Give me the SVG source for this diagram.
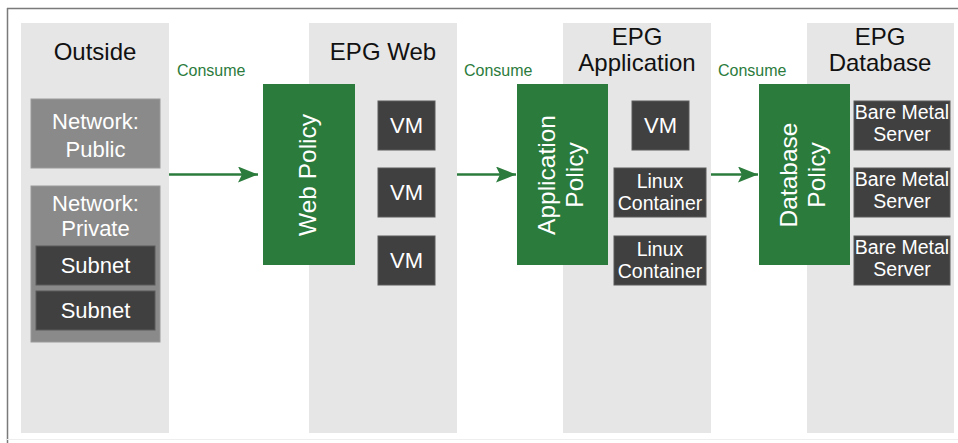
<svg xmlns="http://www.w3.org/2000/svg" width="958" height="443" viewBox="0 0 958 443">
  <style>
    text { font-family: "Liberation Sans", Arial, sans-serif; }
    .col { fill: #e6e6e6; }
    .title { font-size: 24px; fill: #111; text-anchor: middle; }
    .consume { font-size: 16px; fill: #2b7b3c; }
    .policy { fill: #2b7b3c; }
    .ptext { font-size: 24.5px; fill: #ffffff; text-anchor: middle; }
    .dark { fill: #404040; stroke: #5a5a5a; stroke-width: 1; }
    .net { fill: #8a8a8a; stroke: #9a9a9a; stroke-width: 1; }
    .wt { fill: #ffffff; text-anchor: middle; }
    .mid { font-size: 22px; }
    .big { font-size: 22px; }
    .small { font-size: 19.5px; }
    .link { stroke: #2b7b3c; stroke-width: 2.6; fill: none; }
  </style>
  <defs>
    <marker id="arrow" markerUnits="userSpaceOnUse" markerWidth="22" markerHeight="18" refX="20" refY="8" orient="auto">
      <path d="M0,0 L20,8 L0,16 L4,8 Z" fill="#2b7b3c"/>
    </marker>
  </defs>

  <!-- frame -->
  <rect x="0" y="0" width="958" height="443" fill="#ffffff"/>
  <line x1="7" y1="8.5" x2="958" y2="8.5" stroke="#7a7a7a" stroke-width="1.5"/>
  <line x1="7.5" y1="8" x2="7.5" y2="443" stroke="#7a7a7a" stroke-width="1.5"/>
  <line x1="7" y1="439.5" x2="958" y2="439.5" stroke="#eeeeee" stroke-width="1"/>

  <!-- column backgrounds -->
  <g id="outside">
    <rect class="col" x="21" y="23" width="148" height="410"/>
    <text class="title" x="95" y="60">Outside</text>
  </g>
  <g id="epg-web">
    <rect class="col" x="309" y="23" width="148" height="410"/>
    <text class="title" x="383" y="60">EPG Web</text>
  </g>
  <g id="epg-application">
    <rect class="col" x="563" y="23" width="148" height="410"/>
    <text class="title" x="637" y="45">EPG</text>
    <text class="title" x="637" y="71">Application</text>
  </g>
  <g id="epg-database">
    <rect class="col" x="807" y="23" width="147" height="410"/>
    <text class="title" x="880" y="45">EPG</text>
    <text class="title" x="880" y="71">Database</text>
  </g>

  <!-- outside networks -->
  <g id="network-public">
    <rect class="net" x="31" y="99" width="129" height="69"/>
    <text class="wt mid" x="95.5" y="129">Network:</text>
    <text class="wt mid" x="95.5" y="157">Public</text>
  </g>
  <g id="network-private">
    <rect class="net" x="31" y="186" width="129" height="156"/>
    <text class="wt mid" x="95.5" y="211">Network:</text>
    <text class="wt mid" x="95.5" y="236">Private</text>
  </g>
  <g id="subnet-1">
    <rect class="dark" x="36" y="246" width="119" height="39"/>
    <text class="wt big" x="95.5" y="273">Subnet</text>
  </g>
  <g id="subnet-2">
    <rect class="dark" x="36" y="291" width="119" height="39"/>
    <text class="wt big" x="95.5" y="318">Subnet</text>
  </g>

  <!-- policies -->
  <g id="web-policy">
    <rect class="policy" x="263" y="84" width="92" height="181"/>
    <text class="ptext" transform="translate(309,175) rotate(-90)" y="7">Web Policy</text>
  </g>
  <g id="application-policy">
    <rect class="policy" x="517" y="84" width="91" height="181"/>
    <text class="ptext" transform="translate(562.5,175) rotate(-90)" y="-8">Application</text>
    <text class="ptext" transform="translate(562.5,175) rotate(-90)" y="20">Policy</text>
  </g>
  <g id="database-policy">
    <rect class="policy" x="759" y="84" width="91" height="181"/>
    <text class="ptext" transform="translate(804.5,175) rotate(-90)" y="-8">Database</text>
    <text class="ptext" transform="translate(804.5,175) rotate(-90)" y="20">Policy</text>
  </g>

  <!-- web VMs -->
  <g id="web-vm-1">
    <rect class="dark" x="378" y="101" width="57" height="49"/>
    <text class="wt big" x="406.5" y="133">VM</text>
  </g>
  <g id="web-vm-2">
    <rect class="dark" x="378" y="168" width="57" height="49"/>
    <text class="wt big" x="406.5" y="200">VM</text>
  </g>
  <g id="web-vm-3">
    <rect class="dark" x="378" y="236" width="57" height="49"/>
    <text class="wt big" x="406.5" y="268">VM</text>
  </g>

  <!-- application workloads -->
  <g id="app-vm">
    <rect class="dark" x="632" y="101" width="57" height="49"/>
    <text class="wt big" x="660.5" y="133">VM</text>
  </g>
  <g id="app-container-1">
    <rect class="dark" x="614" y="168" width="92" height="49"/>
    <text class="wt small" x="660" y="188">Linux</text>
    <text class="wt small" x="660" y="210">Container</text>
  </g>
  <g id="app-container-2">
    <rect class="dark" x="614" y="236" width="92" height="49"/>
    <text class="wt small" x="660" y="256">Linux</text>
    <text class="wt small" x="660" y="278">Container</text>
  </g>

  <!-- database servers -->
  <g id="db-server-1">
    <rect class="dark" x="854" y="101" width="96" height="49"/>
    <text class="wt small" x="902" y="119">Bare Metal</text>
    <text class="wt small" x="902" y="141">Server</text>
  </g>
  <g id="db-server-2">
    <rect class="dark" x="854" y="168" width="96" height="49"/>
    <text class="wt small" x="902" y="186">Bare Metal</text>
    <text class="wt small" x="902" y="208">Server</text>
  </g>
  <g id="db-server-3">
    <rect class="dark" x="854" y="236" width="96" height="49"/>
    <text class="wt small" x="902" y="254">Bare Metal</text>
    <text class="wt small" x="902" y="276">Server</text>
  </g>

  <!-- consume connectors -->
  <g id="connectors">
    <line class="link" x1="169" y1="174.5" x2="258" y2="174.5" marker-end="url(#arrow)"/>
    <line class="link" x1="457" y1="174.5" x2="516" y2="174.5" marker-end="url(#arrow)"/>
    <line class="link" x1="711" y1="174.5" x2="758" y2="174.5" marker-end="url(#arrow)"/>
    <text class="consume" x="177" y="76">Consume</text>
    <text class="consume" x="464" y="76">Consume</text>
    <text class="consume" x="718" y="76">Consume</text>
  </g>
</svg>
